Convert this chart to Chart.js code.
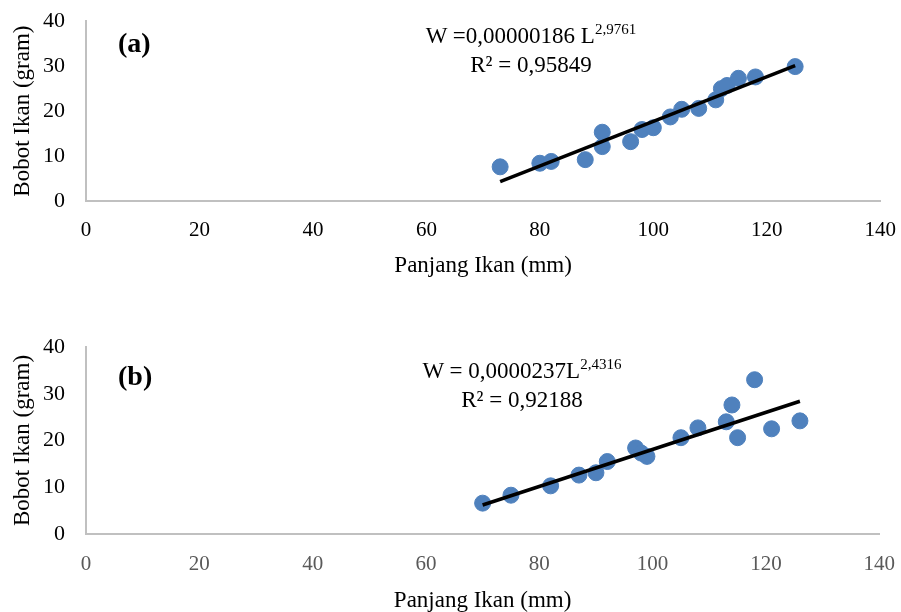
<!DOCTYPE html>
<html>
<head>
<meta charset="utf-8">
<script src="https://cdn.jsdelivr.net/npm/chart.js@4.4.1/dist/chart.umd.min.js"></script>
<style>
    body { margin: 0; background: #fff; width: 901px; height: 612px; overflow: hidden; position: relative; font-family: "Liberation Serif", "Times New Roman", serif; }
    canvas { position: absolute; left: 0; }
    #chartA { top: -5px; }
    #chartB { top: 320px; }
    .tag { position: absolute; font-weight: bold; font-size: 28px; color: #000; }
    .eq { position: absolute; font-size: 23px; color: #000; text-align: center; width: 300px; line-height: 29px; }
    .eq sup { font-size: 15px; vertical-align: 9px; line-height: 0; }
</style>
</head>
<body>
<canvas id="chartA" width="905" height="295"></canvas>
<canvas id="chartB" width="905" height="292"></canvas>

<div class="tag" style="left:118px; top:27px;">(a)</div>
<div class="tag" style="left:118px; top:360px;">(b)</div>
<div class="eq" style="left:381px; top:21px;">W =0,00000186 L<sup>2,9761</sup><br>R² = 0,95849</div>
<div class="eq" style="left:372px; top:356px;">W = 0,0000237L<sup>2,4316</sup><br>R² = 0,92188</div>

<script>
// (a) panjang (mm) vs bobot (gram)
const lengthA = [73, 80, 82, 88, 91, 91, 96, 98, 100, 103, 105, 108, 111, 112, 113, 115, 118, 125];
const weightA = [7.6, 8.4, 8.8, 9.2, 15.3, 12.1, 13.2, 15.9, 16.3, 18.7, 20.4, 20.6, 22.5, 25.0, 25.7, 27.3, 27.6, 29.9];
const trendXA = [73, 125];
const trendYA = [4.3, 30.1];

// (b)
const lengthB = [70, 75, 82, 87, 90, 92, 97, 98, 99, 105, 108, 113, 114, 115, 118, 121, 126];
const weightB = [6.6, 8.3, 10.3, 12.6, 13.1, 15.5, 18.4, 17.3, 16.6, 20.6, 22.7, 24.0, 27.6, 20.6, 33.0, 22.5, 24.2];
const trendXB = [70, 126];
const trendYB = [6.2, 28.4];

const xTicks = [0, 20, 40, 60, 80, 100, 120, 140];
const yTicks = [0, 10, 20, 30, 40];

const serif = '"Liberation Serif", "Times New Roman", serif';

function toPoints(xs, ys) {
    return xs.map((x, i) => ({ x: x, y: ys[i] }));
}

function makeChart(id, xs, ys, tx, ty, cfg) {
    const ctx = document.getElementById(id).getContext('2d');
    return new Chart(ctx, {
        type: 'scatter',
        data: {
            datasets: [{
                data: toPoints(xs, ys),
                backgroundColor: '#4f81bd',
                borderColor: '#4f81bd',
                pointRadius: 8,
                pointHoverRadius: 8,
                order: 2
            }, {
                data: toPoints(tx, ty),
                showLine: true,
                borderColor: '#000',
                borderWidth: 3.5,
                pointRadius: 0,
                order: 1
            }]
        },
        options: {
            responsive: false,
            animation: false,
            layout: { padding: { left: 0, right: 17, top: cfg.top, bottom: 0 } },
            plugins: { legend: { display: false }, tooltip: { enabled: false } },
            scales: {
                x: {
                    type: 'linear',
                    min: 0,
                    max: 140,
                    afterBuildTicks: s => { s.ticks = xTicks.map(v => ({ value: v })); },
                    grid: { display: false },
                    border: { color: '#c0c0c0', width: 2 },
                    ticks: { color: cfg.xTickColor, padding: cfg.xTickPad, font: { family: serif, size: 21 } },
                    title: { display: true, text: 'Panjang Ikan (mm)', color: '#000', font: { family: serif, size: 23 }, padding: { top: 0, bottom: cfg.titlePad } },
                    afterFit: s => { s.height = cfg.xHeight; }
                },
                y: {
                    min: 0,
                    max: 40,
                    afterBuildTicks: s => { s.ticks = yTicks.map(v => ({ value: v })); },
                    grid: { display: false },
                    border: { color: '#c0c0c0', width: 2 },
                    ticks: { color: '#000', padding: 13, font: { family: serif, size: 22 } },
                    title: { display: true, text: 'Bobot Ikan (gram)', color: '#000', font: { family: serif, size: 23 }, padding: { top: 9, bottom: 0 } },
                    afterFit: s => { s.width = 86; }
                }
            }
        }
    });
}

makeChart('chartA', lengthA, weightA, trendXA, trendYA, { top: 26, xHeight: 89, xTickColor: '#000', titlePad: 10, xTickPad: 9 });
makeChart('chartB', lengthB, weightB, trendXB, trendYB, { top: 27, xHeight: 78, xTickColor: '#595959', titlePad: -3, xTickPad: 10 });
</script>
</body>
</html>
